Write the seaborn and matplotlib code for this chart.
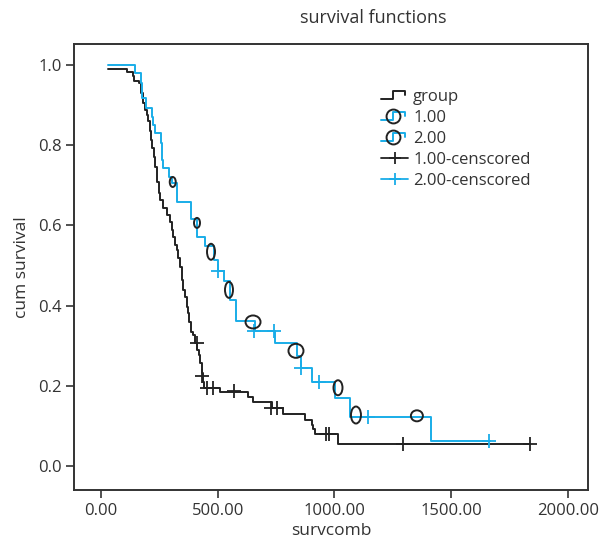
import numpy as np
import pandas as pd
import matplotlib
matplotlib.use("Agg")
import matplotlib.pyplot as plt
import seaborn as sns
from matplotlib.path import Path
from matplotlib.lines import Line2D
from matplotlib.legend_handler import HandlerBase

# step curve data (time of drop, survival after drop)
g1_time = [31, 113, 136, 143, 164, 170, 181, 188, 196, 203, 210, 214, 220, 227, 231,
           239, 241, 250, 253, 264, 281, 296, 303, 310, 317, 324, 331, 338, 346, 352,
           360, 367, 374, 378, 384, 393, 403, 412, 420, 424, 433, 438, 442, 510, 631,
           652, 731, 781, 874, 902, 909, 916, 1016, 1836]
g1_surv = [0.990, 0.982, 0.973, 0.961, 0.954, 0.929, 0.904, 0.888, 0.875, 0.859, 0.834,
           0.813, 0.792, 0.771, 0.746, 0.730, 0.709, 0.680, 0.663, 0.643, 0.626, 0.609,
           0.589, 0.572, 0.551, 0.539, 0.518, 0.497, 0.464, 0.439, 0.422, 0.397, 0.381,
           0.360, 0.335, 0.327, 0.306, 0.289, 0.277, 0.256, 0.231, 0.210, 0.194, 0.184,
           0.171, 0.160, 0.145, 0.130, 0.115, 0.102, 0.092, 0.079, 0.055, 0.055]

g2_time = [31, 146, 170, 174, 193, 217, 224, 231, 256, 260, 267, 292, 303, 324, 384,
           410, 445, 484, 502, 527, 552, 578, 660, 745, 838, 855, 902, 1002, 1066,
           1413, 1668]
g2_surv = [1.000, 0.979, 0.954, 0.917, 0.892, 0.871, 0.850, 0.830, 0.805, 0.763, 0.742,
           0.721, 0.705, 0.659, 0.615, 0.572, 0.548, 0.514, 0.485, 0.460, 0.414, 0.362,
           0.337, 0.307, 0.273, 0.244, 0.210, 0.169, 0.123, 0.061, 0.061]

# censored marks
c1_time = [410, 434, 453, 481, 571, 727, 752, 962, 976, 1295, 1836]
c1_surv = [0.306, 0.224, 0.194, 0.194, 0.188, 0.145, 0.145, 0.079, 0.079, 0.055, 0.055]
c2_time = [502, 657, 741, 857, 934, 1145, 1662]
c2_surv = [0.485, 0.337, 0.337, 0.244, 0.210, 0.123, 0.061]

# open ellipse markers on the 2.00 curve
circ_time = [307, 411, 471, 548, 651, 835, 1015, 1092, 1353]
circ_surv = [0.708, 0.606, 0.534, 0.439, 0.359, 0.287, 0.195, 0.127, 0.125]
circ_w = [6, 6, 8, 8, 15, 15, 9, 10, 12]
circ_h = [10, 10, 16, 16, 13, 14, 15, 17, 11]

BLUE = "#19ade8"
BLACK = "#222222"
TXT = "#333333"

sns.set_theme(style="white")
plt.rcParams['font.family'] = ['Open Sans', 'DejaVu Sans']
plt.rcParams['text.color'] = TXT

df = pd.concat([
    pd.DataFrame({"time": g1_time, "surv": g1_surv, "group": "1.00"}),
    pd.DataFrame({"time": g2_time, "surv": g2_surv, "group": "2.00"}),
])

fig = plt.figure(figsize=(6.08, 5.42), dpi=100)
ax = fig.add_axes([0.1217, 0.0959, 0.8454, 0.8229])

sns.lineplot(data=df, x="time", y="surv", hue="group", palette={"1.00": BLACK, "2.00": BLUE},
             estimator=None, sort=False, drawstyle="steps-post", linewidth=1.4,
             legend=False, ax=ax)

sns.scatterplot(x=c1_time, y=c1_surv, marker="+", s=90, color=BLACK, linewidth=1.3, ax=ax, zorder=4)
sns.scatterplot(x=c2_time, y=c2_surv, marker="+", s=90, color=BLUE, linewidth=1.3, ax=ax, zorder=4)

circle = Path.unit_circle()
for t, s, w, h in zip(circ_time, circ_surv, circ_w, circ_h):
    m = max(w, h)
    mk = Path(circle.vertices * np.array([w / m, h / m]), circle.codes)
    ax.scatter([t], [s], marker=mk, s=(m * 0.72) ** 2, facecolors="none",
               edgecolors=BLACK, linewidths=1.4, zorder=5)


class StepHandler(HandlerBase):
    def __init__(self, color, circ=False):
        super().__init__()
        self.color = color
        self.circ = circ

    def create_artists(self, legend, orig_handle, xdescent, ydescent, width, height, fontsize, trans):
        x0 = -xdescent
        y0 = -ydescent
        xs = [x0, x0 + 0.45 * width, x0 + 0.45 * width, x0 + 0.9 * width, x0 + 0.9 * width]
        ys = [y0 + 0.15 * height, y0 + 0.15 * height, y0 + 0.85 * height, y0 + 0.85 * height, y0 + 0.5 * height]
        arts = [Line2D(xs, ys, color=self.color, lw=1.4, transform=trans)]
        if self.circ:
            arts.append(Line2D([x0 + 0.45 * width], [y0 + 0.5 * height], marker="o", markersize=10,
                               mfc="none", mec=BLACK, mew=1.4, transform=trans))
        return arts


h_group, h_1, h_2 = object(), object(), object()
h_c1 = Line2D([], [], color=BLACK, marker="+", markersize=9, mew=1.3, lw=1.3)
h_c2 = Line2D([], [], color=BLUE, marker="+", markersize=9, mew=1.3, lw=1.3)
ax.legend([h_group, h_1, h_2, h_c1, h_c2],
          ["group", "1.00", "2.00", "1.00-censcored", "2.00-censcored"],
          handler_map={h_group: StepHandler(BLACK), h_1: StepHandler(BLUE, True),
                       h_2: StepHandler(BLUE, True)},
          loc="upper left", bbox_to_anchor=(0.598, 0.899), frameon=False, fontsize=12,
          handlelength=1.6, handletextpad=0.3, labelspacing=0.3, borderaxespad=0,
          borderpad=0)

ax.set_xlim(-116, 2086)
ax.set_ylim(-0.06, 1.052)
ax.set_xticks([0, 500, 1000, 1500, 2000])
ax.set_xticklabels(["0.00", "500.00", "1000.00", "1500.00", "2000.00"])
ax.set_yticks([0.0, 0.2, 0.4, 0.6, 0.8, 1.0])
ax.set_yticklabels(["0.0", "0.2", "0.4", "0.6", "0.8", "1.0"])
ax.tick_params(axis="both", which="both", direction="out", length=6, width=1.2,
               color=TXT, labelcolor=TXT, labelsize=12, bottom=True, left=True, pad=3)
for sp in ax.spines.values():
    sp.set_color(TXT)
    sp.set_linewidth(1.4)

ax.set_xlabel("survcomb", fontsize=12.5, color=TXT, labelpad=3)
ax.set_ylabel("cum survival", fontsize=12.5, color=TXT, labelpad=6)
fig.text(0.6135, 0.967, "survival functions", fontsize=13, color=TXT, ha="center", va="center")

fig.savefig("out.png", dpi=100)
